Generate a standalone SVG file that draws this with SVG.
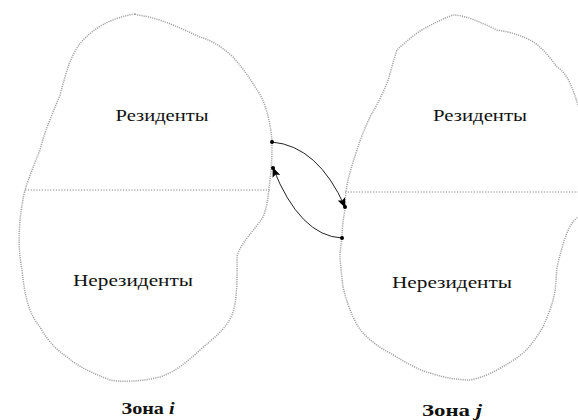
<svg xmlns="http://www.w3.org/2000/svg" width="578" height="420" viewBox="0 0 578 420">
<style>
.zone{fill:none;stroke:#a5a5a5;stroke-width:1.5;stroke-dasharray:1.2 1;}
.div{fill:none;stroke:#acacac;stroke-width:1.3;stroke-dasharray:1.2 1.6;}
.lbl{font-family:"Liberation Serif","DejaVu Serif",serif;font-size:17px;fill:#111;text-anchor:middle;}
.cap{font-family:"Liberation Serif","DejaVu Serif",serif;font-size:16px;font-weight:bold;fill:#111;text-anchor:middle;}
.conn{fill:none;stroke:#222;stroke-width:1;}
</style>
<defs>
<marker id="arr" markerWidth="10" markerHeight="8" refX="9" refY="4" orient="auto" markerUnits="userSpaceOnUse">
<path d="M0,0 L10,4 L0,8 L2,4 Z" fill="#000"/>
</marker>
</defs>
<g id="zone-i">
<path class="zone" d="M135,14 C110,18 95,28 83,40 C70,55 67,70 60,95 C52,115 45,130 40,150 C30,175 24,190 23,200 C18,225 18,250 22,270 C25,300 30,315 40,327 C50,345 60,352 67,357 C80,368 93,373 110,380 C120,382 140,382 160,377 C175,372 187,362 200,350 C215,337 225,330 232,315 C238,300 237,270 237,257 C240,243 255,230 263,217 C268,205 268,195 270,180 C272,165 272,150 272,140 C270,120 265,100 257,90 C248,75 240,65 233,57 C220,45 210,40 200,37 C180,28 160,18 138,15 Z"/>
<path class="div" d="M25,190 L270,190"/>
<text class="lbl" x="162" y="121" textLength="93" lengthAdjust="spacingAndGlyphs">Резиденты</text>
<text class="lbl" x="133" y="286" textLength="120" lengthAdjust="spacingAndGlyphs">Нерезиденты</text>
<text class="cap" x="148" y="414" textLength="53" lengthAdjust="spacingAndGlyphs">Зона <tspan font-style="italic">i</tspan></text>
</g>
<g id="zone-j">
<path class="zone" d="M578,105 C575,95 572,88 570,83 C566,75 562,70 557,67 C548,55 540,45 530,40 C520,35 510,32 497,30 C480,22 465,15 453,15 C440,20 428,26 417,33 C408,40 402,45 397,50 C392,65 390,75 387,83 C380,100 375,108 370,117 C364,130 360,140 357,150 C352,165 350,172 348,180 C346,190 345,200 345,210 C343,220 342,230 342,238 C340,250 340,257 340,257 C341,270 342,280 343,287 C346,300 350,310 353,317 C357,325 360,330 363,333 C372,342 380,348 390,353 C405,362 418,370 430,373 C445,378 458,380 470,380 C480,378 490,374 497,370 C507,364 515,360 523,353 C532,345 538,335 543,327 C548,315 551,308 553,300 C556,290 556,278 557,267 C560,255 563,243 567,233 C570,225 574,220 578,217"/>
<path class="div" d="M345,192 L578,192"/>
<text class="lbl" x="480" y="121" textLength="94" lengthAdjust="spacingAndGlyphs">Резиденты</text>
<text class="lbl" x="452" y="288" textLength="120" lengthAdjust="spacingAndGlyphs">Нерезиденты</text>
<text class="cap" x="452" y="416" textLength="60" lengthAdjust="spacingAndGlyphs">Зона <tspan font-style="italic">j</tspan></text>
</g>
<g id="connectors">
<path class="conn" d="M272,142 Q318,146 345,207" marker-end="url(#arr)"/>
<path class="conn" d="M342,238 Q300,236 273,168" marker-end="url(#arr)"/>
<circle cx="272" cy="142" r="2" fill="#000"/>
<circle cx="342" cy="238" r="2" fill="#000"/>
<circle cx="273" cy="168" r="2" fill="#000"/>
<circle cx="345" cy="207" r="2" fill="#000"/>
</g>
</svg>
